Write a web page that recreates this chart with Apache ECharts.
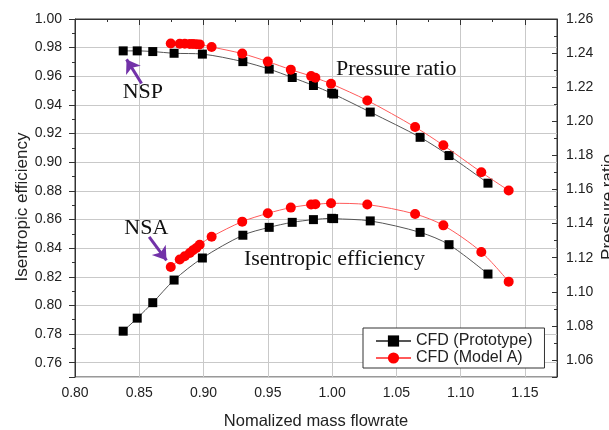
<!DOCTYPE html>
<html>
<head>
<meta charset="utf-8">
<script src="https://cdn.jsdelivr.net/npm/echarts@6/dist/echarts.min.js"></script>
<style>
  html, body { margin: 0; padding: 0; background: #fff; }
  #chart { width: 609px; height: 430px; }
</style>
</head>
<body>
<div id="chart"></div>
<script>
// Normalized mass flowrate of each operating point
const massProto = [0.8375, 0.8484, 0.8605, 0.8771, 0.8991, 0.9306, 0.9511, 0.9690, 0.9855, 0.9997, 1.0012, 1.0297, 1.0685, 1.0910, 1.1213];
const massModel = [0.8745, 0.8815, 0.8854, 0.8893, 0.8918, 0.8944, 0.8970, 0.9063, 0.9301, 0.9500, 0.9679, 0.9837, 0.9870, 0.9992, 1.0274, 1.0646, 1.0866, 1.1161, 1.1374];

// Isentropic efficiency (left axis)
const effProto = [0.7820, 0.7911, 0.8019, 0.8177, 0.8331, 0.8490, 0.8545, 0.8580, 0.8599, 0.8608, 0.8606, 0.8590, 0.8510, 0.8424, 0.8219];
const effModel = [0.8268, 0.8320, 0.8343, 0.8366, 0.8385, 0.8401, 0.8424, 0.8480, 0.8585, 0.8643, 0.8683, 0.8704, 0.8706, 0.8713, 0.8704, 0.8638, 0.8559, 0.8373, 0.8166];

// Total pressure ratio (right axis)
const prProto = [1.2413, 1.2413, 1.2409, 1.2399, 1.2394, 1.2350, 1.2306, 1.2257, 1.2210, 1.2165, 1.2160, 1.2054, 1.1906, 1.1799, 1.1637];
const prModel = [1.2456, 1.2455, 1.2455, 1.2454, 1.2453, 1.2452, 1.2451, 1.2436, 1.2397, 1.2350, 1.2303, 1.2265, 1.2255, 1.2220, 1.2122, 1.1966, 1.1859, 1.1701, 1.1594];

// Axis ranges and tick steps
const xRange = [0.80, 1.175];
const xStep = 0.05;
const effRange = [0.75, 1.00];
const prRange = [1.05, 1.26];
const yStep = 0.02;

const seriesNames = ['CFD (Prototype)', 'CFD (Model A)'];

// Annotations in (mass flowrate, efficiency) coordinates
const noteTexts = ['NSP', 'NSA', 'Pressure ratio', 'Isentropic efficiency'];
const notePos = [[0.8528, 0.9490], [0.8555, 0.8536], [1.0499, 0.9650], [1.0018, 0.8320]];
const arrowFrom = [[0.8518, 0.9550], [0.8577, 0.8478]];
const arrowTo = [[0.8401, 0.9718], [0.8712, 0.8315]];

const zip = (xs, ys) => xs.map((x, i) => [x, ys[i]]);
const onStep = (v, step) => Math.abs(v / step - Math.round(v / step)) < 1e-6;

const SANS = 'Liberation Sans, Arial, sans-serif';
const SERIF = 'Liberation Serif, Times New Roman, serif';
const INK = '#222';
const AXIS = '#333';
const GRIDLINE = '#c9c9c9';
const PURPLE = '#7232a8';

const chart = echarts.init(document.getElementById('chart'), null, { renderer: 'canvas' });

const hidden = { show: false };

const option = {
  animation: false,
  grid: {
    left: 75, right: 52, top: 19, bottom: 53,
    outerBoundsMode: 'none', containLabel: false,
    show: true, borderColor: AXIS, borderWidth: 1, backgroundColor: 'transparent'
  },
  legend: {
    data: seriesNames,
    orient: 'vertical',
    left: 363, top: 328,
    padding: [5, 12, 2, 12],
    itemWidth: 35, itemHeight: 14, itemGap: 1,
    borderColor: AXIS, borderWidth: 1,
    textStyle: { fontFamily: SANS, fontSize: 16, color: INK },
    backgroundColor: '#fff'
  },
  xAxis: [
    { // data axis, carries the minor ticks
      type: 'value', position: 'bottom', min: xRange[0], max: xRange[1], interval: xStep / 2,
      axisLine: hidden, splitLine: hidden, axisLabel: hidden,
      axisTick: { show: true, length: 3, lineStyle: { color: AXIS } }
    },
    { // labelled axis
      type: 'value', position: 'bottom', min: xRange[0], max: xRange[1], interval: xStep,
      name: 'Nomalized mass flowrate', nameLocation: 'middle', nameGap: 36, nameMoveOverlap: false,
      nameTextStyle: { fontFamily: SANS, fontSize: 16.5, color: INK },
      axisLine: { show: true, lineStyle: { color: AXIS } },
      axisTick: { show: true, length: 6, lineStyle: { color: AXIS } },
      splitLine: { show: true, lineStyle: { color: GRIDLINE, width: 1 } },
      axisLabel: {
        margin: 9, fontFamily: SANS, fontSize: 14, color: INK,
        formatter: v => onStep(v, xStep) ? v.toFixed(2) : ''
      }
    }
  ],
  yAxis: [
    { // efficiency data axis, minor ticks outside
      type: 'value', position: 'left', min: effRange[0], max: effRange[1], interval: yStep / 2,
      axisLine: hidden, splitLine: hidden, axisLabel: hidden,
      axisTick: { show: true, length: 3, lineStyle: { color: AXIS } }
    },
    { // pressure ratio data axis, minor ticks inside
      type: 'value', position: 'right', min: prRange[0], max: prRange[1], interval: yStep / 2,
      axisLine: hidden, splitLine: hidden, axisLabel: hidden,
      axisTick: { show: true, inside: true, length: 3, lineStyle: { color: AXIS } }
    },
    { // efficiency labels, counted down from the top edge
      type: 'value', position: 'left', inverse: true,
      min: 0, max: effRange[1] - effRange[0], interval: yStep,
      name: 'Isentropic efficiency', nameLocation: 'middle', nameRotate: 90, nameGap: 44, nameMoveOverlap: false,
      nameTextStyle: { fontFamily: SANS, fontSize: 17, color: INK, padding: [0, 18, 0, 0] },
      axisLine: { show: true, lineStyle: { color: AXIS } },
      axisTick: { show: true, length: 6, lineStyle: { color: AXIS } },
      splitLine: { show: true, lineStyle: { color: GRIDLINE, width: 1 } },
      axisLabel: {
        margin: 13, fontFamily: SANS, fontSize: 14, color: INK,
        formatter: v => onStep(v, yStep) ? (effRange[1] - v).toFixed(2) : ''
      }
    },
    { // pressure ratio labels, counted down from the top edge
      type: 'value', position: 'right', inverse: true,
      min: 0, max: prRange[1] - prRange[0], interval: yStep,
      name: 'Pressure ratio', nameLocation: 'middle', nameRotate: 90, nameGap: 43, nameMoveOverlap: false,
      nameTextStyle: { fontFamily: SANS, fontSize: 17, color: INK, padding: [0, 18, 0, 0] },
      axisLine: { show: true, lineStyle: { color: AXIS } },
      axisTick: { show: true, inside: true, length: 5, lineStyle: { color: AXIS } },
      splitLine: hidden,
      axisLabel: {
        margin: 9, fontFamily: SANS, fontSize: 14, color: INK,
        formatter: v => onStep(v, yStep) ? (prRange[1] - v).toFixed(2) : ''
      }
    }
  ],
  series: [
    {
      name: seriesNames[0], type: 'line', xAxisIndex: 0, yAxisIndex: 0,
      data: zip(massProto, effProto), smooth: 0.3,
      symbol: 'rect', symbolSize: 9,
      itemStyle: { color: '#000' }, lineStyle: { color: '#555', width: 1 },
      z: 3,
      markPoint: {
        symbol: 'circle', symbolSize: 0, silent: true,
        label: { show: true, position: 'inside', formatter: '{b}', fontFamily: SERIF, fontSize: 22, color: '#111' },
        data: noteTexts.map((t, i) => ({ name: t, coord: notePos[i] }))
      },
      markLine: {
        silent: true, symbol: ['none', 'arrow'], symbolSize: 13,
        label: { show: false },
        lineStyle: { color: PURPLE, width: 3, type: 'solid' },
        data: arrowFrom.map((p, i) => [{ coord: p }, { coord: arrowTo[i] }])
      }
    },
    {
      name: seriesNames[0], type: 'line', xAxisIndex: 0, yAxisIndex: 1,
      data: zip(massProto, prProto), smooth: 0.3,
      symbol: 'rect', symbolSize: 9,
      itemStyle: { color: '#000' }, lineStyle: { color: '#555', width: 1 },
      z: 3
    },
    {
      name: seriesNames[1], type: 'line', xAxisIndex: 0, yAxisIndex: 0,
      data: zip(massModel, effModel), smooth: 0.3,
      symbol: 'circle', symbolSize: 10,
      itemStyle: { color: '#ff0000' }, lineStyle: { color: '#ff5a5a', width: 1 },
      z: 4
    },
    {
      name: seriesNames[1], type: 'line', xAxisIndex: 0, yAxisIndex: 1,
      data: zip(massModel, prModel), smooth: 0.3,
      symbol: 'circle', symbolSize: 10,
      itemStyle: { color: '#ff0000' }, lineStyle: { color: '#ff5a5a', width: 1 },
      z: 4
    }
  ]
};

chart.setOption(option);
</script>
</body>
</html>
